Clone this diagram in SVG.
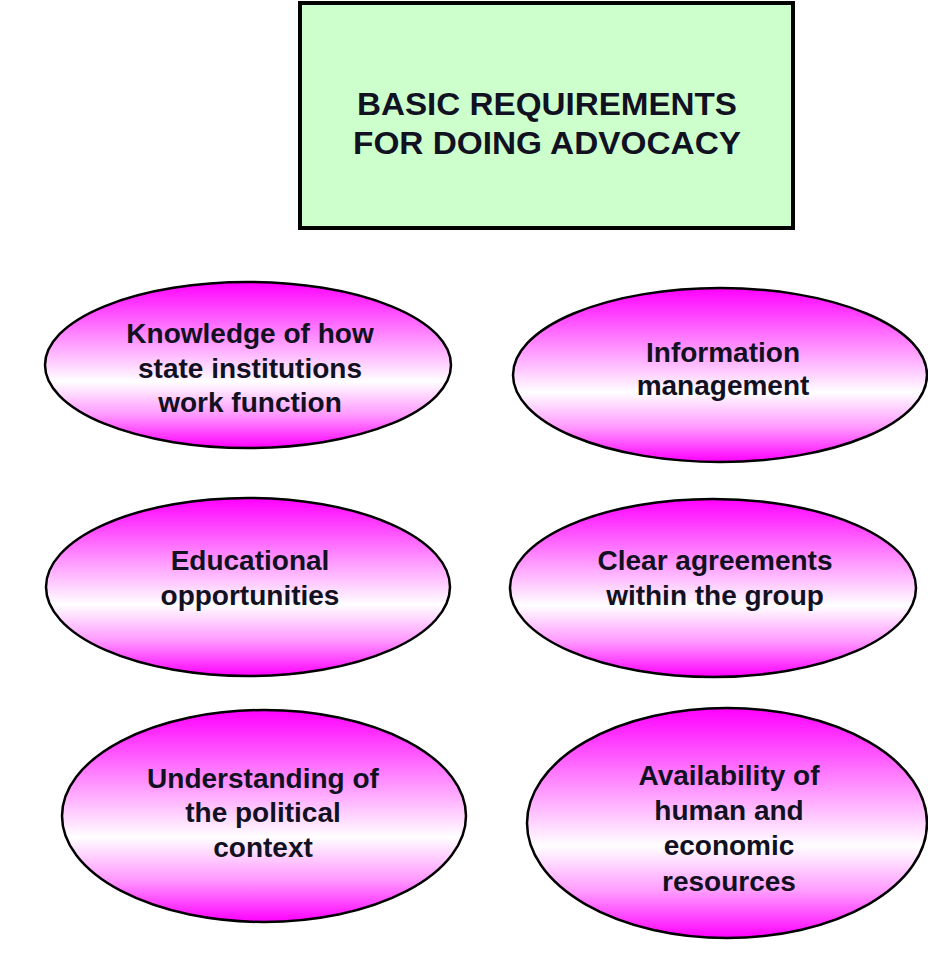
<svg xmlns="http://www.w3.org/2000/svg" width="928" height="975" viewBox="0 0 928 975">
  <style>
    .node ellipse { fill: url(#pinkGrad); stroke: #000; stroke-width: 2.5; }
    .label { font-family: "Liberation Sans", Arial, sans-serif; font-weight: bold; font-size: 28px; fill: #111122; text-anchor: middle; }
    .title { font-family: "Liberation Sans", Arial, sans-serif; font-weight: bold; font-size: 31px; fill: #111122; text-anchor: middle; }
  </style>
  <defs>
    <linearGradient id="pinkGrad" x1="0" y1="0" x2="0" y2="1">
      <stop offset="0" stop-color="#FF00FF"/>
      <stop offset="0.3" stop-color="#FF80FF"/>
      <stop offset="0.6" stop-color="#FFFFFF"/>
      <stop offset="0.8" stop-color="#FF99FF"/>
      <stop offset="1" stop-color="#FF00FF"/>
    </linearGradient>
  </defs>
  <rect width="928" height="975" fill="#FFFFFF"/>
  <g id="connectors"></g>
  <g id="title">
    <rect x="300" y="3" width="493" height="225" fill="#CCFFCC" stroke="#000" stroke-width="4"/>
    <text class="title" x="547" y="115" textLength="380" lengthAdjust="spacingAndGlyphs">BASIC REQUIREMENTS</text>
    <text class="title" x="547" y="154" textLength="388" lengthAdjust="spacingAndGlyphs">FOR DOING ADVOCACY</text>
  </g>
  <g id="n1" class="node">
    <ellipse cx="248" cy="365" rx="203" ry="83"/>
    <text class="label" x="250" y="343">Knowledge of how</text>
    <text class="label" x="250" y="378">state institutions</text>
    <text class="label" x="250" y="412">work function</text>
  </g>
  <g id="n2" class="node">
    <ellipse cx="720" cy="375" rx="207" ry="87"/>
    <text class="label" x="723" y="362">Information</text>
    <text class="label" x="723" y="395">management</text>
  </g>
  <g id="n3" class="node">
    <ellipse cx="248" cy="587" rx="202" ry="89"/>
    <text class="label" x="250" y="570">Educational</text>
    <text class="label" x="250" y="605">opportunities</text>
  </g>
  <g id="n4" class="node">
    <ellipse cx="713" cy="588" rx="203" ry="89"/>
    <text class="label" x="715" y="570">Clear agreements</text>
    <text class="label" x="715" y="605">within the group</text>
  </g>
  <g id="n5" class="node">
    <ellipse cx="264" cy="816" rx="202" ry="106"/>
    <text class="label" x="263" y="788">Understanding of</text>
    <text class="label" x="263" y="822">the political</text>
    <text class="label" x="263" y="857">context</text>
  </g>
  <g id="n6" class="node">
    <ellipse cx="727" cy="823" rx="200" ry="115"/>
    <text class="label" x="729" y="785">Availability of</text>
    <text class="label" x="729" y="820">human and</text>
    <text class="label" x="729" y="855">economic</text>
    <text class="label" x="729" y="891">resources</text>
  </g>
</svg>
